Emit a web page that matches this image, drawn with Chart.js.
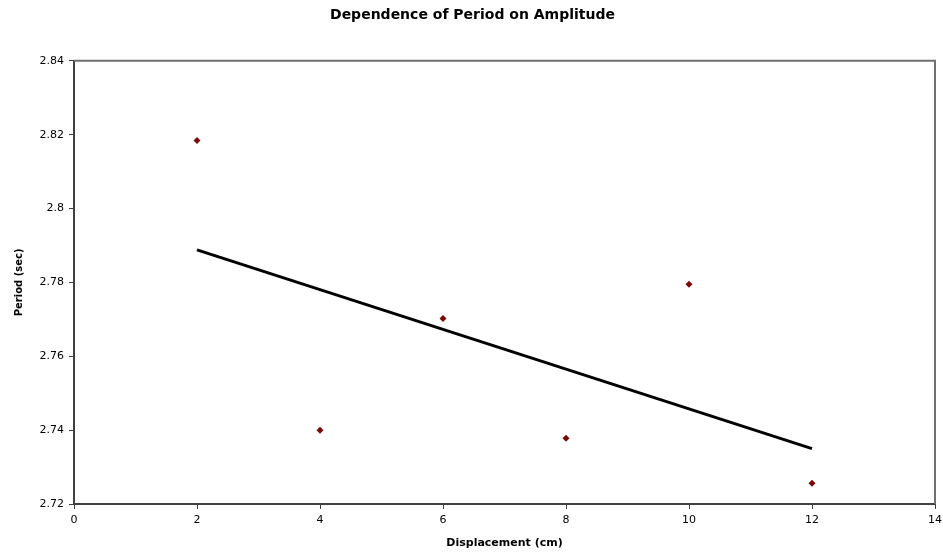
<!DOCTYPE html>
<html>
<head>
<meta charset="utf-8">
<script src="https://cdn.jsdelivr.net/npm/chart.js@4/dist/chart.umd.min.js"></script>
<style>
  html, body { margin: 0; padding: 0; background: #fff; }
  #wrap { width: 943px; height: 554px; }
</style>
</head>
<body>
<div id="wrap"><canvas id="grafico"></canvas></div>
<script>
// datos
const desplazamiento = [2, 4, 6, 8, 10, 12];
const periodo = [2.8184, 2.7400, 2.7702, 2.7378, 2.7795, 2.7256];

// linea de tendencia (extremos)
const tendenciaX = [2, 12];
const tendenciaY = [2.7888, 2.7350];

const titulo = 'Dependence of Period on Amplitude';
const tituloX = 'Displacement (cm)';
const tituloY = 'Period (sec)';

// marco gris arriba y a la derecha
const marco = {
    id: 'marco',
    afterDraw(chart) {
        const { ctx, chartArea: a } = chart;
        ctx.save();
        ctx.strokeStyle = '#707070';
        ctx.lineWidth = 2;
        ctx.beginPath();
        ctx.moveTo(a.left, a.top);
        ctx.lineTo(a.right, a.top);
        ctx.lineTo(a.right, a.bottom);
        ctx.stroke();
        ctx.restore();
    }
};

Chart.defaults.font.family = '"DejaVu Sans", "Liberation Sans", sans-serif';
Chart.defaults.color = '#000';

new Chart(document.getElementById('grafico').getContext('2d'), {
    type: 'scatter',
    data: {
        datasets: [{
            label: 'Periodo',
            data: desplazamiento.map((x, i) => ({ x: x, y: periodo[i] })),
            pointStyle: 'rectRot',
            pointRadius: 3.5,
            backgroundColor: '#7a0a0a',
            borderColor: '#7a0a0a',
            borderWidth: 0,
            order: 1
        }, {
            label: 'Tendencia',
            type: 'line',
            data: tendenciaX.map((x, i) => ({ x: x, y: tendenciaY[i] })),
            borderColor: '#000',
            borderWidth: 3,
            pointRadius: 0,
            fill: false,
            order: 2
        }]
    },
    options: {
        responsive: true,
        maintainAspectRatio: false,
        animation: false,
        layout: { padding: { left: 10, right: 8, top: 0, bottom: 0 } },
        plugins: {
            legend: { display: false },
            tooltip: { enabled: false },
            title: {
                display: true,
                text: titulo,
                font: { size: 14, weight: 'bold' },
                padding: { top: 7, bottom: 37 }
            }
        },
        scales: {
            x: {
                type: 'linear',
                min: 0,
                max: 14,
                ticks: { stepSize: 2, font: { size: 11 }, padding: 5, maxRotation: 0 },
                grid: { drawOnChartArea: false, drawTicks: true, tickLength: 5, color: '#404040' },
                border: { display: true, color: '#404040', width: 2 },
                title: {
                    display: true,
                    text: tituloX,
                    font: { size: 11, weight: 'bold' },
                    padding: { top: 0, bottom: 4 }
                },
                afterFit(scale) {
                    scale.height = 50;
                    scale.paddingRight = 0;
                    scale.paddingLeft = 0;
                }
            },
            y: {
                type: 'linear',
                min: 2.72,
                max: 2.84,
                ticks: {
                    stepSize: 0.02,
                    font: { size: 11 },
                    padding: 5,
                    callback: v => String(parseFloat(v.toFixed(2)))
                },
                grid: { drawOnChartArea: false, drawTicks: true, tickLength: 5, color: '#404040' },
                border: { display: true, color: '#404040', width: 2 },
                title: {
                    display: true,
                    text: tituloY,
                    font: { size: 10, weight: 'bold' },
                    padding: { top: 3, bottom: 0 }
                },
                afterFit(scale) { scale.width = 64; }
            }
        }
    },
    plugins: [marco]
});
</script>
</body>
</html>
